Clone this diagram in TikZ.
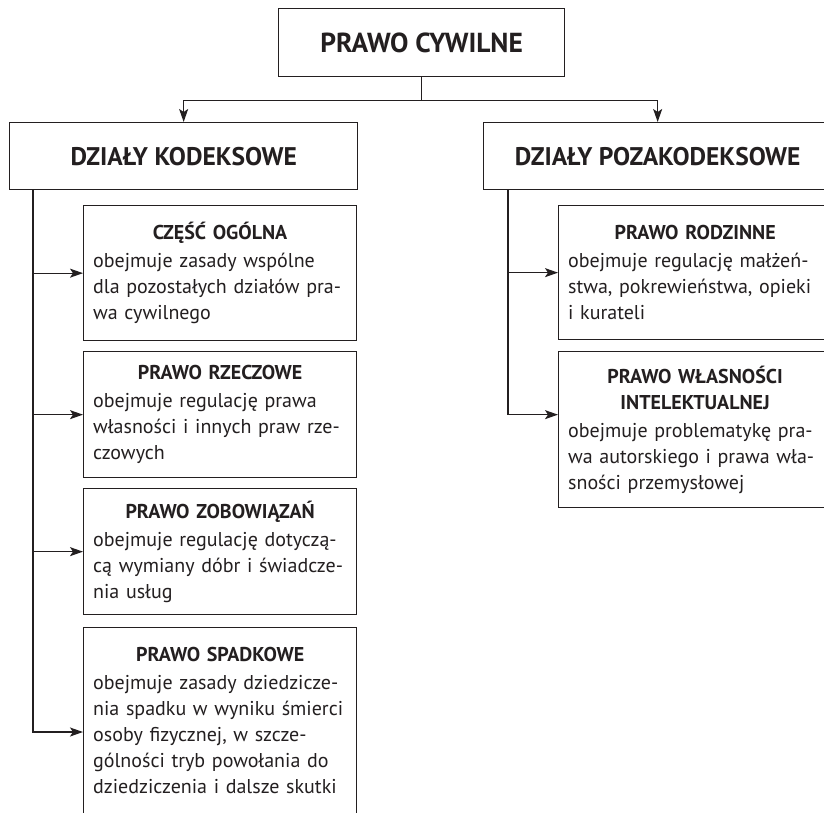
\documentclass[tikz,border=0pt]{standalone}
\usepackage{fontspec}
\setmainfont{PT Sans}
\usetikzlibrary{arrows.meta,calc}

\definecolor{tusz}{HTML}{231F20}
% one justified line of the description
\newcommand{\wiersz}[1]{\makebox[254pt][s]{#1}\\}
\newcommand{\tytul}[1]{\makebox[254pt]{\bfseries #1}\\[2pt]}

\tikzset{
  ramka/.style={draw=tusz, line width=1.3pt, anchor=north west, inner sep=0pt, text=tusz},
  glowny/.style={ramka, minimum width=286pt, minimum height=68pt, font=\fontsize{27.5}{32}\selectfont\bfseries},
  dzial/.style={ramka, minimum width=348pt, minimum height=67pt, font=\fontsize{25.5}{28}\selectfont\bfseries},
  opis/.style={ramka, minimum width=273pt, text width=254pt, align=left, font=\fontsize{20}{26}\selectfont},
  strz/.style={draw=tusz, line width=1.3pt, -{Stealth[length=13pt,width=9pt,inset=3pt]}}
}

\begin{document}
\begin{tikzpicture}[x=1pt,y=-1pt]
\useasboundingbox (0,0) rectangle (824,812);
\fill[white] (0,0) rectangle (824,812);
\clip (0,0) rectangle (824,812);

\node[glowny] (prawo) at (278,8) {PRAWO CYWILNE};
\node[dzial] (kod) at (9,122) {DZIAŁY KODEKSOWE};
\node[dzial] (poza) at (483,122) {DZIAŁY POZAKODEKSOWE};

% dzialy kodeksowe
\node[opis, minimum height=135pt] (ogolna) at (83,205) {\tytul{CZĘŚĆ OGÓLNA}
obejmuje zasady wspólne\\
\wiersz{dla pozostałych działów pra-}
wa cywilnego};
\node[opis, minimum height=126pt] (rzecz) at (83,351) {\tytul{PRAWO RZECZOWE}
\wiersz{obejmuje regulację prawa}
\wiersz{własności i innych praw rze-}
czowych};
\node[opis, minimum height=126pt] (zobow) at (83,488) {\tytul{PRAWO ZOBOWIĄZAŃ}
\wiersz{obejmuje regulację dotyczą-}
\wiersz{cą wymiany dóbr i świadcze-}
nia usług};
\node[opis, minimum height=186pt] (spadek) at (83,627) {\tytul{PRAWO SPADKOWE}
\wiersz{obejmuje zasady dziedzicze-}
\wiersz{nia spadku w wyniku śmierci}
\wiersz{osoby fizycznej, w szcze-}
\wiersz{gólności tryb powołania do}
\mbox{dziedziczenia i dalsze skutki}};

% dzialy pozakodeksowe
\node[opis, minimum height=134pt] (rodz) at (558,205) {\tytul{PRAWO RODZINNE}
\wiersz{obejmuje regulację małżeń-}
\wiersz{stwa, pokrewieństwa, opieki}
i kurateli};
\node[opis, minimum height=156pt] (wlasn) at (558,351) {\makebox[254pt]{\bfseries PRAWO WŁASNOŚCI}\\
\tytul{INTELEKTUALNEJ}
\wiersz{obejmuje problematykę pra-}
\wiersz{wa autorskiego i prawa wła-}
sności przemysłowej};

\draw[strz] (prawo.south) -- ++(0,23) -| (kod.north);
\draw[strz] (prawo.south) -- ++(0,23) -| (poza.north);

\coordinate (pionL) at ($(kod.south west)+(24,0)$);
\coordinate (pionP) at ($(poza.south west)+(25,0)$);
\draw[strz] (pionL) |- (ogolna.west);
\draw[strz] (pionL) |- (rzecz.west);
\draw[strz] (pionL) |- (zobow.west);
\draw[strz] (pionL) |- ($(spadek.north west)+(0,105)$);
\draw[strz] (pionP) |- (rodz.west);
\draw[strz] (pionP) |- ($(wlasn.west)+(0,-15)$);
\end{tikzpicture}
\end{document}
